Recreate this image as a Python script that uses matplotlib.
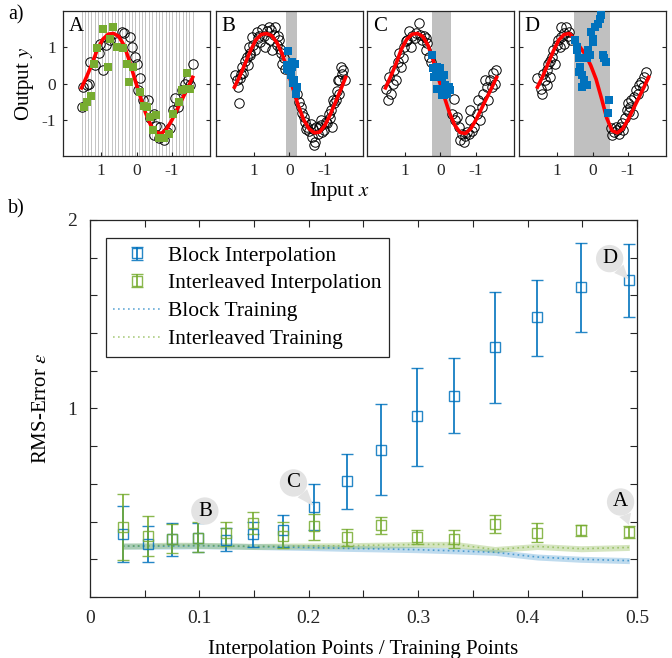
import numpy as np
import matplotlib
matplotlib.use('Agg')
import matplotlib.pyplot as plt
from matplotlib.legend_handler import HandlerErrorbar

plt.rcParams['font.family'] = ['Liberation Serif', 'DejaVu Serif']
plt.rcParams['mathtext.fontset'] = 'stix'
plt.rcParams['axes.unicode_minus'] = False

BLUE  = '#0072BD'
GREEN = '#77AC30'
AX_C  = '#262626'

# ── panel b data ─────────────────────────────────────────────────────────────
ratio = [0.030, 0.053, 0.075, 0.099, 0.124, 0.149, 0.176, 0.205,
         0.235, 0.266, 0.299, 0.333, 0.370, 0.409, 0.449, 0.493]

block_mean = [0.333, 0.281, 0.307, 0.314, 0.303, 0.332, 0.356, 0.477,
              0.614, 0.782, 0.960, 1.067, 1.326, 1.483, 1.645, 1.680]
block_lo   = [0.184, 0.188, 0.216, 0.237, 0.245, 0.267, 0.267, 0.355,
              0.465, 0.540, 0.695, 0.868, 1.030, 1.280, 1.405, 1.486]
block_hi   = [0.484, 0.374, 0.395, 0.391, 0.365, 0.398, 0.433, 0.600,
              0.760, 1.023, 1.216, 1.266, 1.618, 1.682, 1.877, 1.874]

inter_mean = [0.372, 0.325, 0.307, 0.314, 0.342, 0.391, 0.325, 0.374,
              0.316, 0.383, 0.316, 0.307, 0.386, 0.342, 0.354, 0.346]
inter_lo   = [0.197, 0.219, 0.232, 0.237, 0.272, 0.333, 0.260, 0.302,
              0.272, 0.333, 0.280, 0.258, 0.337, 0.293, 0.326, 0.314]
inter_hi   = [0.547, 0.428, 0.389, 0.396, 0.396, 0.451, 0.398, 0.442,
              0.360, 0.426, 0.355, 0.356, 0.433, 0.391, 0.382, 0.375]

block_train = [0.270, 0.270, 0.270, 0.272, 0.270, 0.268, 0.265, 0.262,
               0.258, 0.255, 0.251, 0.245, 0.237, 0.212, 0.200, 0.193]
inter_train = [0.270, 0.272, 0.275, 0.274, 0.272, 0.268, 0.270, 0.271,
               0.272, 0.275, 0.279, 0.279, 0.252, 0.268, 0.256, 0.263]
train_band = 0.016

# ── panel a data ─────────────────────────────────────────────────────────────
curve_x  = [1.55, 1.4, 1.25, 1.1, 0.95, 0.8, 0.65, 0.5, 0.35, 0.2, 0.05,
            -0.1, -0.25, -0.4, -0.55, -0.7, -0.85, -1.0, -1.15, -1.3, -1.45, -1.58]
curve_yA = [-0.12, 0.2, 0.55, 0.95, 1.22, 1.36, 1.38, 1.3, 1.05, 0.62, 0.12,
            -0.35, -0.8, -1.15, -1.35, -1.38, -1.25, -1.0, -0.7, -0.4, -0.1, 0.17]
curve_yB = [-0.1, 0.2, 0.55, 0.9, 1.2, 1.35, 1.38, 1.32, 1.12, 0.8, 0.35,
            -0.15, -0.62, -1.0, -1.25, -1.36, -1.34, -1.15, -0.85, -0.5, -0.15, 0.17]
curve_yD = [-0.1, 0.2, 0.55, 0.9, 1.2, 1.35, 1.38, 1.22, 1.0, 0.8, 0.5,
            0.12, -0.4, -0.95, -1.3, -1.36, -1.25, -1.0, -0.7, -0.4, -0.1, 0.17]

A_cx = [1.50, 1.55, 1.39, 1.33, 1.30, 1.17, 1.05, 1.03, 0.94, 0.86, 0.75, 0.54,
        0.42, 0.36, 0.19, 0.14, 0.05, 0.0, -0.09, -0.05, -0.19, -0.33, -0.38,
        -0.49, -0.56, -0.66, -0.49, -0.64, -0.77, -0.85, -0.94, -1.03, -1.08,
        -1.17, -1.27, -1.36, -1.44, -1.58, -1.50]
A_cy = [-0.11, -0.64, -0.05, 0.0, 0.60, 0.50, 0.83, 1.10, 0.37, 1.06, 1.19, 1.15,
        1.42, 1.39, 1.28, 1.01, 0.73, 0.55, 0.14, -0.18, -0.46, -0.46, -0.96,
        -0.83, -1.17, -1.19, -1.42, -1.49, -1.56, -1.33, -1.24, -0.73, -0.41,
        -0.64, -0.18, 0.0, 0.09, 0.55, -0.05]
A_sx = [1.48, 1.39, 1.28, 1.19, 1.10, 0.80, 0.94, 0.66, 0.75, 0.56, 0.38, 0.28,
        0.09, 0.21, -0.09, -0.21, -0.30, -0.38, -0.56, -0.47, -0.64, -0.77,
        -0.92, -1.03, -1.19, -1.27, -1.39, -1.41, -1.50]
A_sy = [-0.66, -0.50, -0.34, 0.55, 0.98, 0.46, 1.51, 1.56, 1.24, 1.01, 0.98, 0.55,
        0.46, 0.05, -0.23, -0.62, -0.64, -0.92, -0.87, -1.28, -1.49, -1.51,
        -1.38, -0.83, -0.50, -0.17, -0.14, 0.29, -0.14]
A_lines = [1.55, 1.46, 1.36, 1.27, 1.17, 1.08, 0.98, 0.89, 0.79, 0.70, 0.60, 0.51,
           0.41, 0.32, 0.22, 0.13, 0.03, -0.06, -0.16, -0.25, -0.35, -0.44, -0.54,
           -0.63, -0.73, -0.82, -0.92, -1.01, -1.11, -1.20, -1.30, -1.39, -1.49, -1.58]

B_cx = [1.53, 1.48, 1.45, 1.43, 1.40, 1.34, 1.30, 1.25, 1.20, 1.18, 1.15, 1.10,
        1.06, 1.02, 0.96, 0.92, 0.88, 0.82, 0.77, 0.72, 0.68, 0.64, 0.58, 0.55,
        0.49, 0.45, 0.40, 0.36, 0.30, 0.26, 0.23, 0.20, 0.16, 0.12,
        1.36, 1.12, 0.85, 0.52, 0.33,
        -0.22, -0.26, -0.31, -0.36, -0.41, -0.45, -0.50, -0.55, -0.60, -0.64,
        -0.69, -0.72, -0.74, -0.80, -0.84, -0.88, -0.92, -0.97, -1.02, -1.07,
        -1.10, -1.16, -1.20, -1.22, -1.25, -1.30, -1.33, -1.36, -1.40, -1.44,
        -1.48, -1.52, -1.56, -0.47, -0.66, -0.90, -1.13, -1.38]
B_cy = [0.23, 0.09, -0.10, -0.55, 0.15, 0.46, 0.30, 0.62, 0.73, 0.50, 1.00, 0.85,
        1.28, 1.05, 0.92, 1.42, 1.25, 1.15, 1.51, 1.30, 1.00, 1.45, 1.56, 1.20,
        0.92, 1.35, 1.56, 1.05, 1.19, 0.95, 0.83, 0.55, 0.70, 0.40,
        0.25, 0.78, 1.32, 1.48, 1.30,
        -0.28, -0.50, -0.64, -0.80, -0.92, -1.05, -1.19, -1.30, -1.12, -1.47,
        -1.70, -1.62, -1.19, -1.40, -1.20, -1.00, -1.35, -1.28, -1.05, -1.10,
        -0.85, -0.73, -1.20, -0.45, -0.55, -0.46, -0.20, 0.10, 0.09, 0.46,
        0.25, 0.38, 0.10, -1.25, -1.25, -1.15, -0.95, -0.30]
B_sx = [0.04, 0.07, 0.02, -0.08, -0.15, -0.03, -0.12, -0.17, -0.06, 0.08, -0.20, -0.10]
B_sy = [0.90, 0.50, 0.37, 0.60, 0.55, 0.23, 0.09, -0.29, 0.46, 0.41, -0.10, 0.02]
B_band = (0.09, -0.22)

C_cx = [1.53, 1.48, 1.39, 1.44, 1.34, 1.30, 1.20, 1.16, 1.06, 1.02, 0.93, 0.88,
        0.79, 0.69, 0.60, 0.57, 0.51, 0.42, 0.37, 0.32, 0.28, 0.42, 0.84, 1.11, 1.25,
        0.98, 0.72, 0.47,
        -0.19, -0.37, -0.32, -0.42, -0.51, -0.60, -0.65, -0.74, -0.83, -0.93,
        -1.02, -1.06, -1.16, -1.20, -1.30, -1.34, -1.39, -1.48, -1.57, -1.53,
        -0.83, -0.69, -0.46, -0.56, -0.79, -1.11, -1.25, -0.88, -1.44]
C_cy = [-0.14, -0.46, -0.28, 0.19, 0.0, 0.37, 0.60, 0.83, 0.69, 1.02, 1.20, 1.44,
        1.30, 1.39, 1.67, 1.34, 1.20, 1.25, 1.11, 0.74, 0.60, 0.93, 1.02, 0.46, 0.09,
        1.18, 1.25, 1.32,
        -0.19, -0.42, -0.83, -1.02, -1.20, -1.39, -1.62, -1.34, -1.02, -1.20,
        -0.83, -0.46, -0.65, -0.28, -0.09, -0.46, 0.09, 0.28, 0.37, 0.0,
        -0.74, -1.44, -0.93, -1.57, -1.39, -1.02, 0.09, -1.30, -0.10]
C_sx = [0.23, 0.20, 0.14, 0.09, 0.0, -0.05, -0.09, 0.11, -0.14, -0.23, -0.05, -0.19,
        0.17, 0.02, -0.28, -0.14, -0.09]
C_sy = [0.79, 0.42, 0.32, 0.46, 0.42, 0.19, 0.23, -0.14, -0.05, -0.09, -0.32, -0.28,
        0.19, 0.23, -0.19, -0.19, -0.32]
C_band = (0.25, -0.30)

D_cx = [1.46, 1.42, 1.55, 1.33, 1.28, 1.24, 1.15, 1.10, 1.01, 0.97, 0.88, 0.79,
        0.74, 0.65, 0.61, 0.79, 0.92, 1.19, 1.06, 1.28, 0.88, 1.38, 1.20, 0.70,
        -0.51, -0.60, -0.69, -0.78, -0.83, -0.91, -0.96, -1.05, -1.09, -1.18,
        -1.23, -1.32, -1.36, -1.45, -1.50, -0.56, -0.74, -1.00, -1.14, -1.41,
        -0.65, -0.87, -1.27, -1.04]
D_cy = [-0.14, -0.28, 0.14, 0.09, 0.37, 0.55, 0.73, 0.92, 1.06, 1.19, 1.28, 1.38,
        1.56, 1.42, 1.19, 1.10, 1.01, 0.18, 0.55, -0.05, 1.56, 0.25, 0.62, 1.30,
        -1.24, -1.33, -1.28, -1.19, -1.10, -0.96, -0.73, -0.64, -0.46, -0.37,
        -0.18, -0.05, 0.05, 0.18, 0.32, -1.42, -1.38, -0.55, -0.83, -0.09,
        -1.19, -1.28, -0.30, -0.78]
D_sx = [0.48, 0.43, 0.39, 0.34, 0.30, 0.25, 0.23, 0.16, 0.12, 0.07, 0.03, -0.06,
        -0.02, -0.15, -0.24, -0.20, -0.02, -0.29, -0.38, -0.33, -0.47, -0.45,
        0.39, 0.30, 0.43, 0.16]
D_sy = [1.19, 0.92, 0.69, 0.46, 0.23, 0.09, -0.05, -0.05, 0.92, 0.78, 1.42, 1.56,
        1.24, 1.65, 1.88, 1.79, 1.15, 0.78, 0.60, 0.69, -0.46, -0.81,
        0.32, -0.09, 1.01, 0.69]
D_band = (0.53, -0.50)

# ── figure ───────────────────────────────────────────────────────────────────
fig = plt.figure(figsize=(6.72, 6.58), dpi=100)

panels = [
    ('A', 0.0938, curve_yA, A_cx, A_cy, A_sx, A_sy, GREEN, None),
    ('B', 0.3214, curve_yB, B_cx, B_cy, B_sx, B_sy, BLUE, B_band),
    ('C', 0.5461, curve_yA, C_cx, C_cy, C_sx, C_sy, BLUE, C_band),
    ('D', 0.7723, curve_yD, D_cx, D_cy, D_sx, D_sy, BLUE, D_band),
]
for i, (lab, left, cy, px, py, sx, sy, scol, band) in enumerate(panels):
    ax = fig.add_axes([left, 0.7629, 0.2188, 0.2204])
    if band is None:
        for xv in A_lines:
            ax.axvline(xv, color='#c4c4c4', lw=0.7, zorder=0)
    else:
        ax.axvspan(band[1], band[0], color='#c0c0c0', lw=0, zorder=0)
    ax.plot(px, py, 'o', mfc='none', mec='black', ms=6.8, mew=0.7, zorder=2)
    ax.plot(curve_x, cy, '-', color='red', lw=2.6, zorder=3)
    ax.plot(sx, sy, 's', color=scol, ms=6.2 if scol == GREEN else 5.6, mew=0, zorder=4)
    ax.text(0.04, 0.96, lab, transform=ax.transAxes, fontsize=15, va='top', ha='left')
    ax.set_xlim(2.07, -2.07)
    ax.set_ylim(-2, 2)
    ax.set_xticks([1, 0, -1])
    ax.set_yticks([1, 0, -1])
    ax.tick_params(direction='in', length=3, labelsize=12.5, colors=AX_C,
                   top=False, right=True, pad=5)
    if i > 0:
        ax.set_yticklabels([])
    for s in ax.spines.values():
        s.set_color(AX_C)
        s.set_linewidth(0.9)

fig.text(0.037, 0.873, 'Output $y$', rotation=90, fontsize=15, ha='center', va='center')
fig.text(0.505, 0.709, 'Input $x$', fontsize=15, ha='center', va='center')
fig.text(0.012, 0.977, 'a)', fontsize=14.5, ha='left', va='center')
fig.text(0.012, 0.683, 'b)', fontsize=14.5, ha='left', va='center')

# ── panel b ──────────────────────────────────────────────────────────────────
ax = fig.add_axes([0.1339, 0.0927, 0.814, 0.573])

bt = np.array(block_train)
it = np.array(inter_train)
ax.fill_between(ratio, bt - train_band, bt + train_band, color=BLUE, alpha=0.25, lw=0)
ax.fill_between(ratio, it - train_band, it + train_band, color=GREEN, alpha=0.3, lw=0)
ln_b, = ax.plot(ratio, bt, color=BLUE, alpha=0.6, lw=1.2, ls=(0, (1, 2)))
ln_i, = ax.plot(ratio, it, color=GREEN, alpha=0.6, lw=1.2, ls=(0, (1, 2)))

bm = np.array(block_mean)
im = np.array(inter_mean)
eb_b = ax.errorbar(ratio, bm, yerr=[bm - np.array(block_lo), np.array(block_hi) - bm],
                   fmt='s', mfc='none', mec=BLUE, ms=6.5, mew=1.0, ecolor=BLUE,
                   elinewidth=1.4, capsize=4.5, capthick=1.4, alpha=0.85, zorder=4)
eb_i = ax.errorbar(ratio, im, yerr=[im - np.array(inter_lo), np.array(inter_hi) - im],
                   fmt='s', mfc='none', mec=GREEN, ms=6.5, mew=1.0, ecolor=GREEN,
                   elinewidth=1.4, capsize=4.5, capthick=1.4, alpha=0.85, zorder=4)

ax.set_xlim(0, 0.5)
ax.set_ylim(0, 2)
xt = [0, 0.05, 0.1, 0.15, 0.2, 0.25, 0.3, 0.35, 0.4, 0.45, 0.5]
ax.set_xticks(xt)
ax.set_xticklabels(['0', '', '0.1', '', '0.2', '', '0.3', '', '0.4', '', '0.5'])
yt = [0, 0.2, 0.4, 0.6, 0.8, 1.0, 1.2, 1.4, 1.6, 1.8, 2.0]
ax.set_yticks(yt)
ax.set_yticklabels(['', '', '', '', '', '1', '', '', '', '', '2'])
ax.tick_params(direction='in', length=5, labelsize=14, colors=AX_C,
               top=True, right=True, pad=9)
for s in ax.spines.values():
    s.set_color(AX_C)
    s.set_linewidth(0.9)
ax.set_xlabel('Interpolation Points / Training Points', fontsize=15, labelpad=10)
ax.set_ylabel(r'RMS-Error $\varepsilon$', fontsize=15, labelpad=12)

leg = ax.legend([eb_b, eb_i, ln_b, ln_i],
                ['Block Interpolation', 'Interleaved Interpolation',
                 'Block Training', 'Interleaved Training'],
                loc='upper left', bbox_to_anchor=(0.029, 0.952), borderaxespad=0,
                fontsize=15.5, handlelength=2.2, handletextpad=0.35, labelspacing=0.36,
                fancybox=False, framealpha=1, edgecolor=AX_C, borderpad=0.35,
                handler_map={type(eb_b): HandlerErrorbar(yerr_size=0.3)})
leg.get_frame().set_linewidth(0.9)

# bubble labels
bubbles = [('B', 0.105, 0.456), ('C', 0.186, 0.605),
           ('D', 0.475, 1.795), ('A', 0.485, 0.504)]
targets = {'B': (ratio[3], inter_hi[3]), 'C': (ratio[7], block_mean[7]),
           'D': (ratio[15], block_mean[15]), 'A': (ratio[15], inter_hi[15])}
for lab, tx, ty in bubbles:
    ax.annotate(lab, xy=targets[lab], xytext=(tx, ty), fontsize=15,
                ha='center', va='center', zorder=6,
                bbox=dict(boxstyle='circle,pad=0.2', fc='#e3e3e3', ec='none'),
                arrowprops=dict(arrowstyle='wedge,tail_width=0.6,shrink_factor=0.5',
                                fc='#e3e3e3', ec='none', shrinkA=0, shrinkB=1))

fig.savefig('out.png', dpi=100)
